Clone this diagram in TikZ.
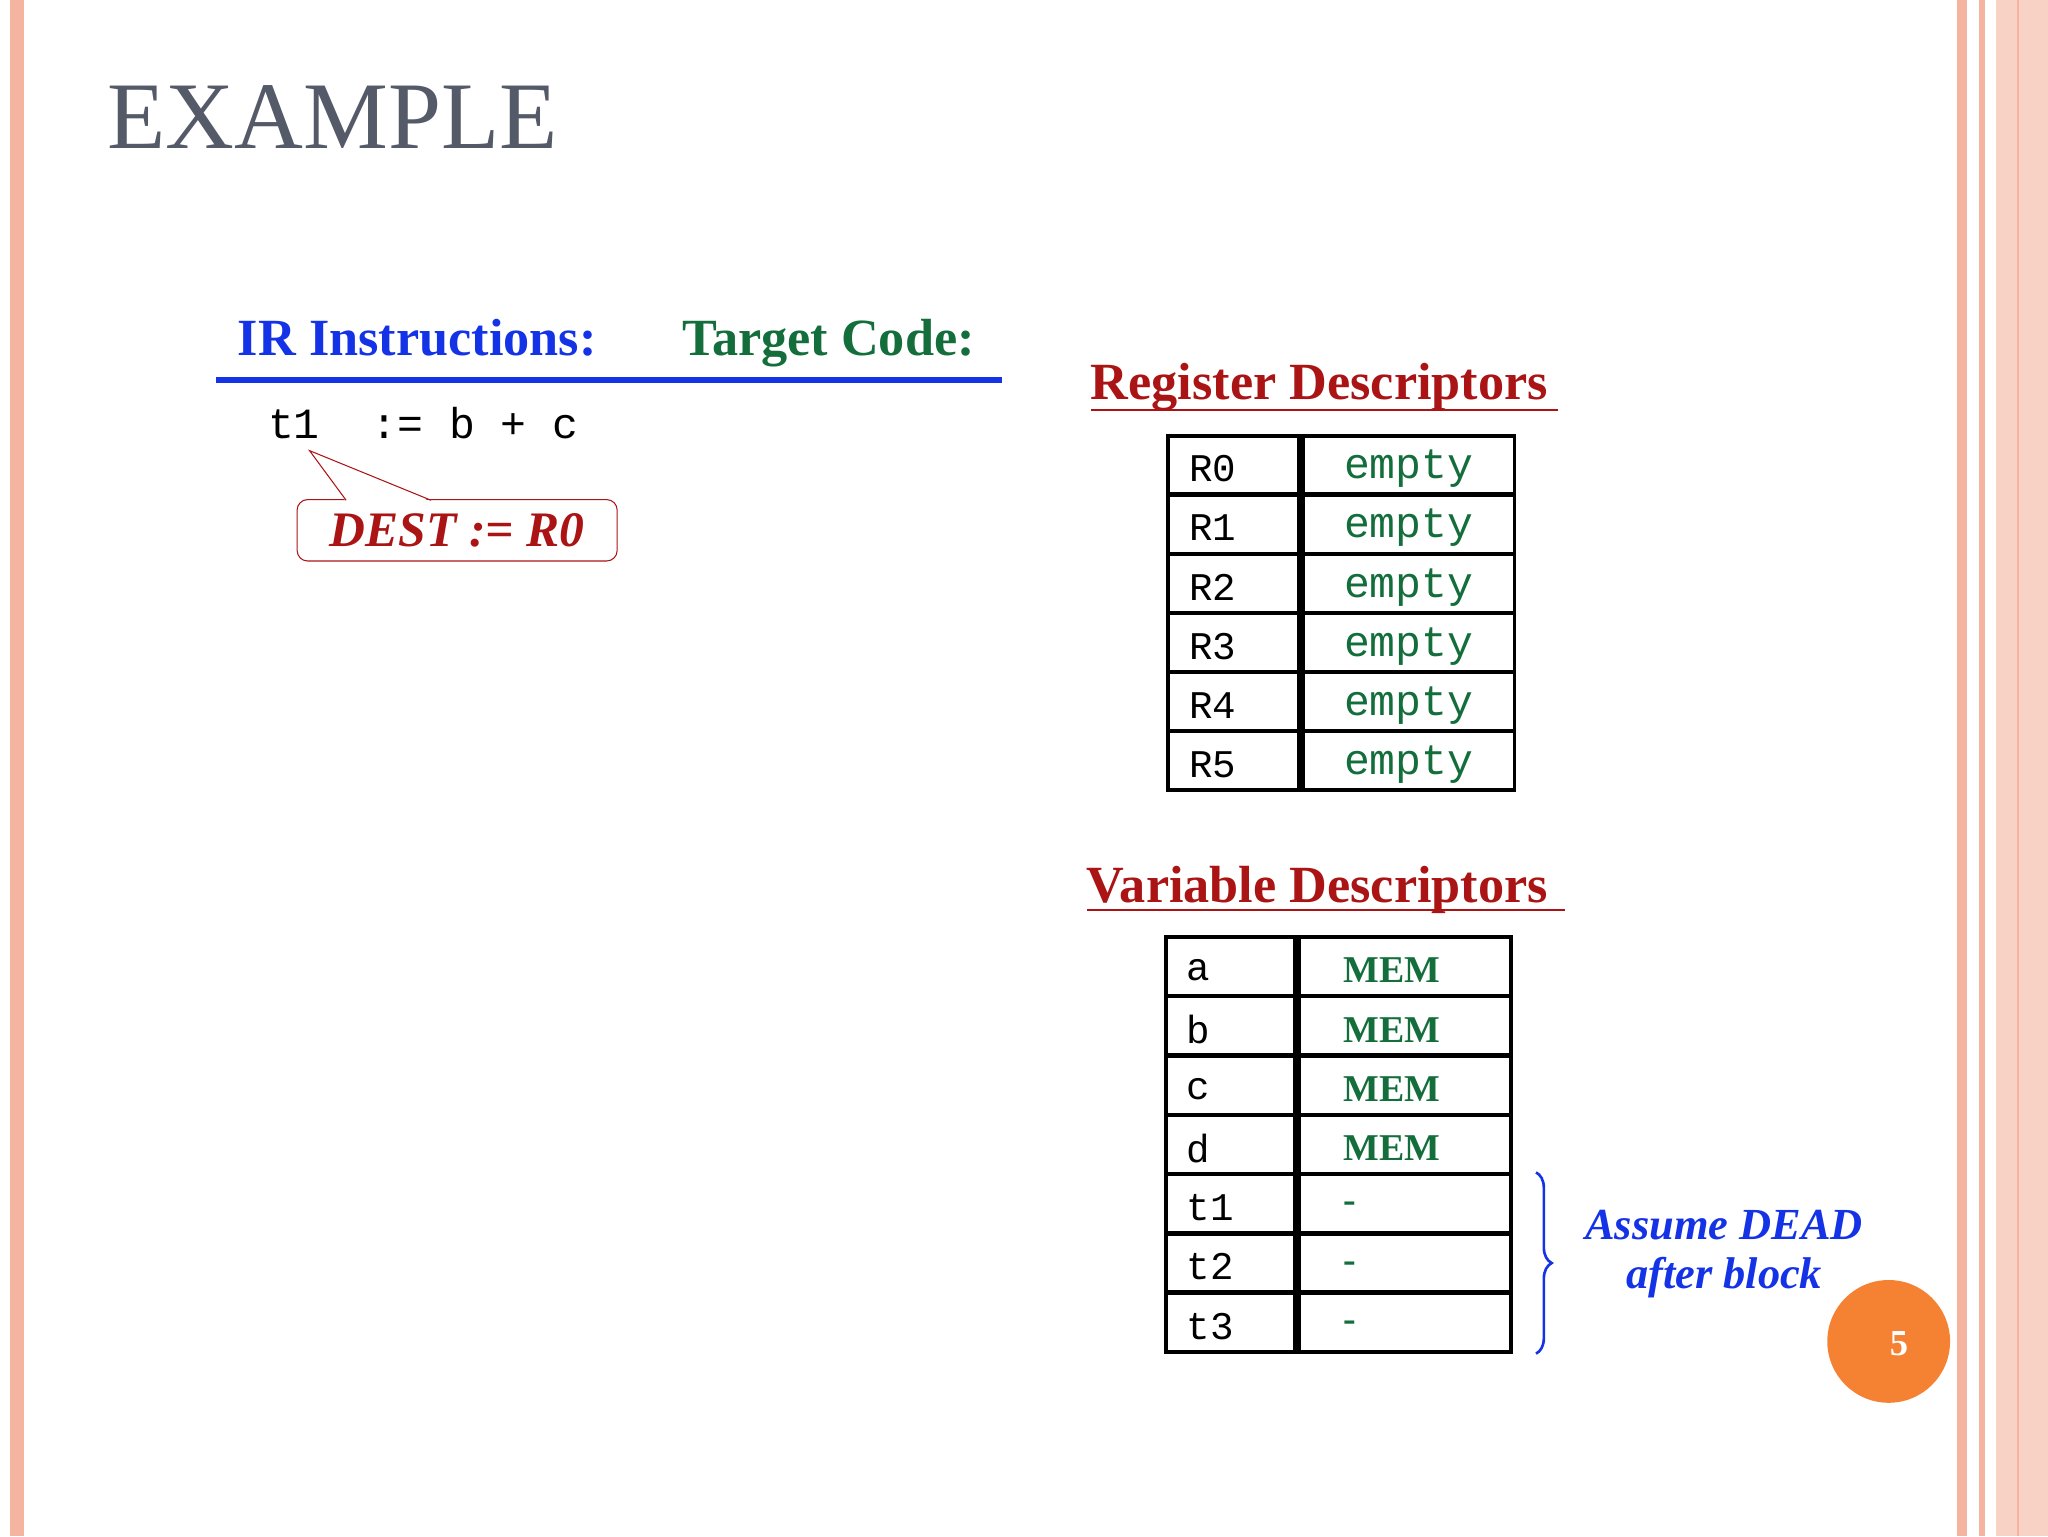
\documentclass[tikz,border=0pt]{standalone}
\usepackage{fontspec}
\setmainfont{Liberation Serif}
\setmonofont{Liberation Mono}
\usepackage{tikz}
\usetikzlibrary{positioning,decorations.pathreplacing}
\definecolor{slidegray}{RGB}{85,90,105}
\definecolor{irblue}{RGB}{20,50,230}
\definecolor{tgreen}{RGB}{20,110,60}
\definecolor{dred}{RGB}{170,20,20}
\definecolor{salmon}{RGB}{245,180,160}
\definecolor{orng}{RGB}{245,130,50}

\begin{document}
\begin{tikzpicture}[
    x=1pt, y=-1pt,
    heading/.style={font=\fontsize{40}{44}\selectfont\bfseries, anchor=base west, inner sep=0},
    code/.style={font=\fontsize{33}{36}\selectfont\ttfamily, anchor=base west, inner sep=0},
    cell/.style={draw, line width=3pt, minimum height=45pt, anchor=north west, inner sep=0},
    regname/.style={font=\fontsize{30}{32}\selectfont\ttfamily, text=black},
    regval/.style={font=\fontsize{33}{36}\selectfont\ttfamily, text=tgreen},
    varval/.style={font=\fontsize{29}{30}\selectfont\bfseries, text=tgreen}
]
\useasboundingbox (0,0) rectangle (1568,1176);
% slide borders
\fill[salmon] (8,0) rectangle (18,1176);
\fill[salmon] (1498,0) rectangle (1506,1176);
\fill[salmon] (1515,0) rectangle (1520,1176);
\fill[salmon!60] (1528,0) rectangle (1568,1176);
\draw[salmon, line width=2pt] (1545,0) -- (1545,1176);

% title
\node[font=\fontsize{73}{76}\selectfont, text=slidegray, anchor=base west, inner sep=0] (title) at (82,114) {EXAMPLE};

% IR / target headings
\node[heading, text=irblue] (ir) at (182,272) {IR Instructions:};
\node[heading, text=tgreen] (target) at (522,272) {Target Code:};
\draw[irblue, line width=4pt] (165,291) -- (767,291);
\node[code] (instr) at (205,336) {t1\ \ := b + c};

% callout
\node[draw=dred, thick, rounded corners=8pt, minimum width=245pt, minimum height=47pt,
      font=\fontsize{38}{40}\selectfont\bfseries\itshape, text=dred, inner sep=0] (dest) at (350,406) {DEST := R0};
\coordinate (tip) at (237,345);
\fill[white] (265,384) -- (tip) -- (330,384) -- cycle;
\draw[dred, thick] (265,383) -- (tip) -- (330,383);

% register descriptors
\node[heading, text=dred] (regtitle) at (835,306) {Register Descriptors};
\draw[dred, line width=1.5pt] (835,314) -- (1193,314);
\foreach \r [count=\i from 0] in {R0,R1,R2,R3,R4,R5} {
  \node[cell, minimum width=100pt, regname] (rn\i) at (893,332+\i*45.3) {};
  \node[regname, anchor=west] at ([xshift=14pt,yshift=-3pt]rn\i.west) {\r};
  \node[cell, minimum width=162pt] (rv\i) at (rn\i.north east) {};
  \node[regval] at ([yshift=-3pt]rv\i.center) {empty};
}

% variable descriptors
\node[heading, text=dred] (vartitle) at (832,691) {Variable Descriptors};
\draw[dred, line width=1.5pt] (832,697) -- (1198,697);
\foreach \v/\d [count=\i from 0] in {a/MEM,b/MEM,c/MEM,d/MEM,t1/-,t2/-,t3/-} {
  \node[cell, minimum width=99pt] (vn\i) at (891,716+\i*45.4) {};
  \node[regname, anchor=west] at ([xshift=14pt,yshift=-3pt]vn\i.west) {\v};
  \node[cell, minimum width=162pt] (vv\i) at (vn\i.north east) {};
  \node[varval, anchor=west] at ([xshift=32pt,yshift=-3pt]vv\i.west) {\d};
}

% brace
\draw[irblue, line width=2pt, decorate, decoration={brace, amplitude=12pt}]
  ([xshift=18pt]vv4.north east) -- ([xshift=18pt]vv6.south east);
\node[text=irblue, font=\fontsize{34}{38}\selectfont\bfseries\itshape, align=center, inner sep=0] (dead) at (1320,960) {Assume DEAD\\after block};

% page number
\fill[orng] (1446,1027) circle (47);
\node[text=white, font=\fontsize{28}{30}\selectfont\bfseries] (page) at (1454,1029) {5};
\end{tikzpicture}
\end{document}
